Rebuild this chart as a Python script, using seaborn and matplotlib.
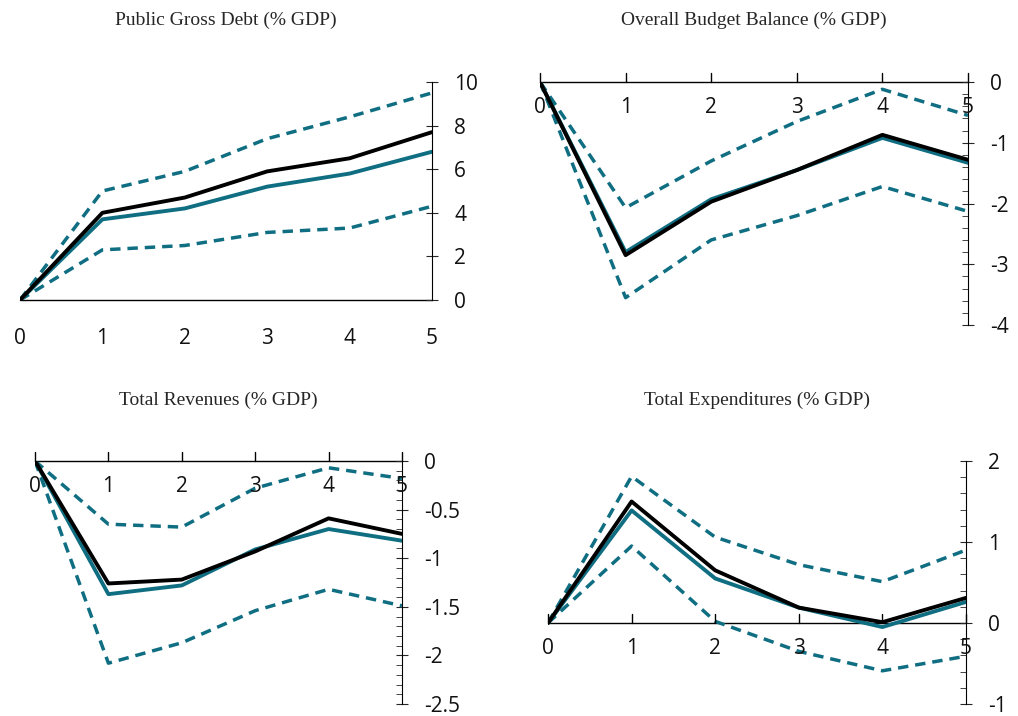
import seaborn as sns
import matplotlib.pyplot as plt
import pandas as pd
from matplotlib.ticker import MultipleLocator, FuncFormatter

sns.set_style("white")
plt.rcParams['font.family'] = ['Open Sans', 'DejaVu Sans']
plt.rcParams['axes.unicode_minus'] = False

years = [0, 1, 2, 3, 4, 5]
TEAL = "#106e82"

# Public Gross Debt
debt_main = [0, 4.0, 4.7, 5.9, 6.5, 7.7]
debt_est = [0, 3.7, 4.2, 5.2, 5.8, 6.8]
debt_hi = [0, 5.0, 5.9, 7.4, 8.4, 9.5]
debt_lo = [0, 2.3, 2.5, 3.1, 3.3, 4.3]
# Overall Budget Balance
bal_main = [0, -2.85, -1.97, -1.45, -0.87, -1.28]
bal_est = [0, -2.8, -1.93, -1.45, -0.92, -1.33]
bal_hi = [0, -2.07, -1.3, -0.65, -0.12, -0.55]
bal_lo = [0, -3.55, -2.6, -2.2, -1.72, -2.13]
# Total Revenues
rev_main = [0, -1.26, -1.22, -0.93, -0.59, -0.75]
rev_est = [0, -1.37, -1.28, -0.91, -0.70, -0.82]
rev_hi = [0, -0.65, -0.68, -0.28, -0.07, -0.18]
rev_lo = [0, -2.08, -1.87, -1.54, -1.32, -1.49]
# Total Expenditures
exp_main = [0, 1.5, 0.65, 0.19, 0.01, 0.31]
exp_est = [0, 1.39, 0.55, 0.19, -0.05, 0.26]
exp_hi = [0, 1.81, 1.06, 0.72, 0.51, 0.9]
exp_lo = [0, 0.95, 0.02, -0.35, -0.59, -0.41]

panels = [
    ("Public Gross Debt (% GDP)", debt_main, debt_est, debt_hi, debt_lo, (0, 10), 2, 2, [20/1018, 1-300/716, 412/1018, 218/716], 20),
    ("Overall Budget Balance (% GDP)", bal_main, bal_est, bal_hi, bal_lo, (-4, 0), 1, 0.2, [540/1018, 1-325/716, 428/1018, 243/716], 20),
    ("Total Revenues (% GDP)", rev_main, rev_est, rev_hi, rev_lo, (-2.5, 0), 0.5, 0.1, [35/1018, 1-704/716, 367/1018, 243/716], 400),
    ("Total Expenditures (% GDP)", exp_main, exp_est, exp_hi, exp_lo, (-1, 2), 1, 0.2, [548/1018, 1-704/716, 418/1018, 243/716], 400),
]

fig = plt.figure(figsize=(10.18, 7.16), dpi=100)
for title, main, est, hi, lo, ylim, major, minor, rect, ty in panels:
    ax = fig.add_axes(rect)
    df = pd.DataFrame({"x": years, "main": main, "est": est, "hi": hi, "lo": lo})
    sns.lineplot(data=df, x="x", y="hi", ax=ax, color=TEAL, lw=2.5, linestyle=(0, (3, 2)))
    sns.lineplot(data=df, x="x", y="lo", ax=ax, color=TEAL, lw=2.5, linestyle=(0, (3, 2)))
    sns.lineplot(data=df, x="x", y="est", ax=ax, color=TEAL, lw=2.8)
    sns.lineplot(data=df, x="x", y="main", ax=ax, color="black", lw=2.8)
    ax.set_xlim(0, 5)
    ax.set_ylim(*ylim)
    ax.set_xlabel("")
    ax.set_ylabel("")
    for s in ["left", "top", "bottom"]:
        ax.spines[s].set_visible(False)
    ax.spines["right"].set_color("black")
    ax.yaxis.tick_right()
    ax.yaxis.set_major_locator(MultipleLocator(major))
    ax.yaxis.set_minor_locator(MultipleLocator(minor))
    ax.yaxis.set_major_formatter(FuncFormatter(lambda v, p: "%g" % round(v, 2)))
    ax.tick_params(axis="y", which="major", direction="inout", length=8, labelsize=15, pad=12, right=True, labelcolor="#111111")
    ax.tick_params(axis="y", which="minor", direction="in", length=4, right=True)
    ax.axhline(0, color="black", lw=1, clip_on=False, zorder=0)
    ax.xaxis.set_ticks_position("none")
    ax.set_xticks(years)
    ax.set_xticklabels([])
    span = ylim[1] - ylim[0]
    for x in years:
        if ylim[0] < 0:
            ax.plot([x, x], [0, span * 0.035], color="black", lw=1, clip_on=False)
            ax.text(x, -span * 0.06, str(x), ha="center", va="top", fontsize=15, color="#111111")
        else:
            ax.text(x, -0.13, str(x), transform=ax.get_xaxis_transform(),
                    ha="center", va="top", fontsize=15, color="#111111")
    cx = rect[0] + rect[2] / 2
    fig.text(cx, 1 - ty / 716, title, family="Liberation Serif", fontsize=14, ha="center", va="center")

fig.savefig("out.png", dpi=100)
